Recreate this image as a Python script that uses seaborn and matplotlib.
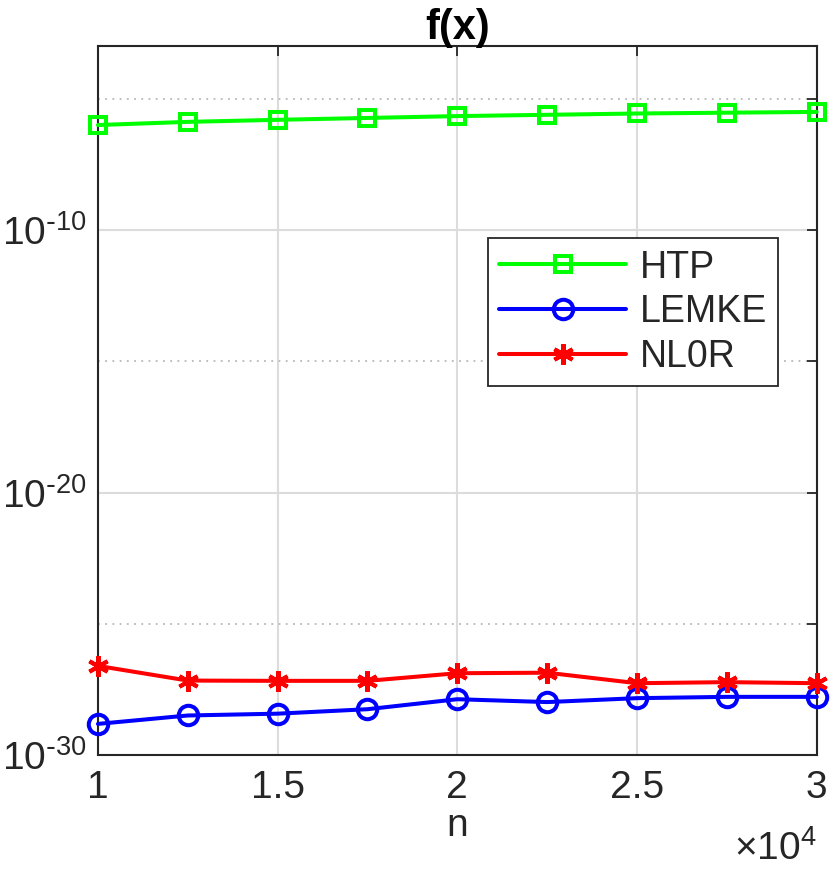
import math
import matplotlib
matplotlib.use('Agg')
import matplotlib.pyplot as plt
import matplotlib.ticker as mticker
from matplotlib import font_manager
import pandas as pd
import seaborn as sns

# data
n_values = [10000, 12500, 15000, 17500, 20000, 22500, 25000, 27500, 30000]
htp_vals = [1.00e-6, 1.32e-6, 1.58e-6, 1.86e-6, 2.19e-6, 2.45e-6, 2.75e-6, 2.95e-6, 3.16e-6]
lemke_vals = [1.55e-29, 3.24e-29, 3.80e-29, 5.62e-29, 1.35e-28, 1.05e-28, 1.48e-28, 1.66e-28, 1.66e-28]
nl0r_vals = [2.51e-27, 6.92e-28, 6.76e-28, 6.76e-28, 1.32e-27, 1.38e-27, 5.50e-28, 6.03e-28, 5.50e-28]
methods = ['HTP', 'LEMKE', 'NL0R']
x_ticks = [10000, 15000, 20000, 25000, 30000]
y_major = [1e-30, 1e-20, 1e-10]
y_minor = [1e-25, 1e-15, 1e-5]

colors = {'HTP': '#00ff00', 'LEMKE': '#0000ff', 'NL0R': '#ff0000'}
markers = {'HTP': 's', 'LEMKE': 'o', 'NL0R': '*'}
# matlab style asterisk drawn with lines
line_markers = {'HTP': 's', 'LEMKE': 'o', 'NL0R': (6, 2, 0)}
msizes = {'HTP': 11, 'LEMKE': 14, 'NL0R': 15}

df = pd.DataFrame({
    'n': n_values * 3,
    'f': htp_vals + lemke_vals + nl0r_vals,
    'method': [m for m in methods for _ in n_values],
})

sns.set_style('white')
installed = {f.name for f in font_manager.fontManager.ttflist}
fam = 'Liberation Sans Narrow' if 'Liberation Sans Narrow' in installed else 'Liberation Sans'
plt.rcParams['font.family'] = [fam, 'DejaVu Sans']
plt.rcParams['mathtext.default'] = 'regular'

fig = plt.figure(figsize=(8.3, 8.73), dpi=100)
ax = fig.add_axes([0.118, 0.135, 0.866, 0.812])

sns.lineplot(data=df, x='n', y='f', hue='method', style='method',
             palette=colors, markers=markers, dashes=False, legend=False,
             linewidth=2.9, ax=ax)

for line, m in zip(ax.lines, methods):
    line.set_marker(line_markers[m])
    line.set_markerfacecolor('none')
    line.set_markeredgecolor(colors[m])
    line.set_markeredgewidth(2.9)
    line.set_markersize(msizes[m])
    line.set_clip_on(False)
    line.set_zorder(3)

ax.set_yscale('log')
ax.set_xlim(10000, 30000)
ax.set_ylim(1e-30, 1e-3)

ax.set_xticks(x_ticks)
ax.xaxis.set_major_formatter(mticker.FuncFormatter(lambda v, p: '%g' % (v / 1e4)))
ax.set_yticks(y_major)
ax.set_yticks(y_minor, minor=True)
ax.yaxis.set_minor_formatter(mticker.NullFormatter())
ax.yaxis.set_major_formatter(mticker.FuncFormatter(
    lambda v, p: r'$10^{\text{-}%d}$' % abs(round(math.log10(v)))))

ax.grid(True, which='major', color='#dcdcdc', linewidth=1.5, linestyle='-')
ax.grid(True, which='minor', axis='y', color='#b8b8b8', linewidth=1.3, linestyle=(0, (1, 3)))
ax.set_axisbelow(True)

ax.tick_params(which='both', direction='in', top=True, right=True,
               length=7, width=1.3, color='#262626', labelsize=28,
               labelcolor='#262626')
ax.tick_params(axis='x', pad=11)
ax.tick_params(axis='y', pad=8)
for s in ax.spines.values():
    s.set_color('#262626')
    s.set_linewidth(1.5)

ax.set_xlabel('n', fontsize=28, color='#262626', labelpad=1)
ax.set_ylabel('')
ax.set_title('f(x)', fontsize=30, fontweight='bold', color='black', pad=5)
ax.text(1.0, -0.106, r'$\times10^{4}$', transform=ax.transAxes,
        ha='right', va='top', fontsize=28, color='#262626')

leg = ax.legend(ax.lines[:3], methods, loc='upper right',
                bbox_to_anchor=(0.946, 0.729), fontsize=27, frameon=True,
                fancybox=False, framealpha=1, edgecolor='#262626',
                handlelength=3.4, labelspacing=0.23, borderpad=0.3,
                handletextpad=0.35, borderaxespad=0)
leg.get_frame().set_linewidth(1.3)

fig.savefig('out.png', dpi=100)
